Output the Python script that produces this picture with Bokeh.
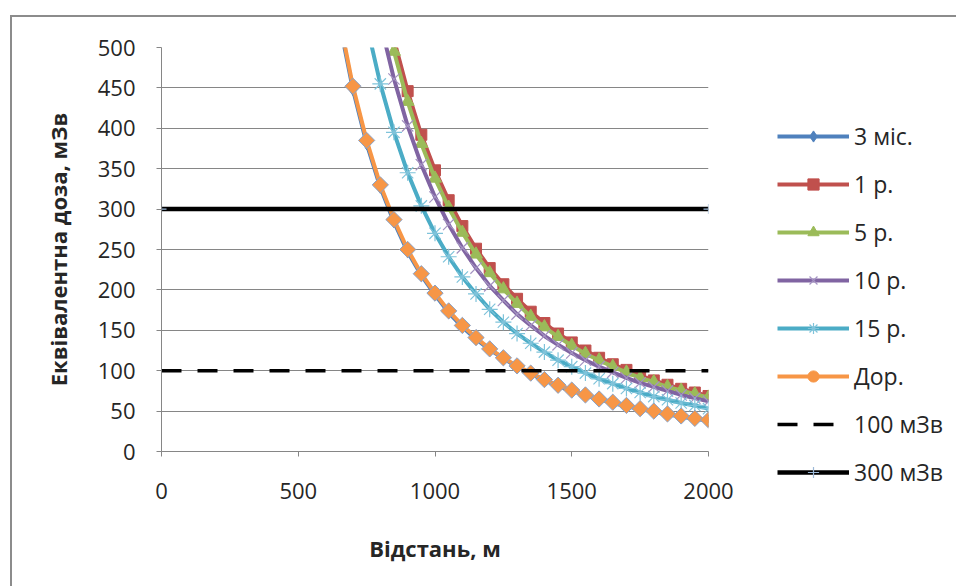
import math
from bokeh.plotting import figure
from bokeh.models import Legend, LegendItem, Range1d, FixedTicker
from bokeh.embed import file_html
from bokeh.resources import INLINE

# ---- data ----
distance = [650, 700, 750, 800, 850, 900, 950, 1000, 1050, 1100, 1150, 1200, 1250, 1300,
            1350, 1400, 1450, 1500, 1550, 1600, 1650, 1700, 1750, 1800, 1850, 1900, 1950, 2000]
dose_3m = [532, 448, 381, 327, 284, 247, 218, 194, 172, 154, 139, 126, 115, 105,
           96, 88, 81, 75, 69.5, 64.5, 60, 56, 52.5, 49, 46, 43, 40.5, 38]
dose_1y = [954, 803, 683, 587, 510, 446, 392, 348, 311, 279, 251, 227, 207, 189,
           173, 159, 146, 135, 125, 116, 108, 101, 94, 88, 82.6, 77.6, 73, 68.7]
dose_5y = [925, 778, 663, 570, 495, 433, 381, 338, 302, 271, 244, 221, 201, 183,
           167, 154, 142, 131, 121, 113, 105, 98, 91, 86, 80, 75.5, 71, 67]
dose_10y = [862, 725, 617, 531, 461, 403, 355, 315, 281, 252, 227, 205, 187, 170,
            156, 143, 132, 122, 113, 105, 98, 91, 85, 80, 75, 70, 66, 62]
dose_15y = [739, 622, 529, 455, 395, 345, 304, 270, 241, 216, 195, 176, 160, 146,
            134, 123, 113, 105, 97, 90, 84, 78, 73, 68, 64, 60, 57, 53]
dose_life = [537, 452, 385, 330, 287, 250, 220, 196, 174, 156, 141, 127, 116, 106,
             97, 89, 82, 76, 70, 65, 61, 57, 53, 50, 46.5, 44, 41, 39]
limit_x = [0, 2000]
limit_100 = [100, 100]
limit_300 = [300, 300]
x_ticks = [0, 500, 1000, 1500, 2000]
y_ticks = [0, 50, 100, 150, 200, 250, 300, 350, 400, 450, 500]
series_names = ["3 міс.", "1 р.", "5 р.", "10 р.", "15 р.", "Дор.", "100 мЗв", "300 мЗв"]

FONT = "Open Sans"

p = figure(frame_width=547, frame_height=404,
           min_border_left=149, min_border_right=248, min_border_top=30, min_border_bottom=135,
           x_range=Range1d(0, 2000), y_range=Range1d(0, 500),
           output_backend="svg", toolbar_location=None,
           background_fill_color="white", border_fill_color="white",
           styles={"border-left": "2px solid #8c8c8c", "border-top": "2px solid #8c8c8c",
                   "margin-left": "10px", "margin-top": "15px"})
p.outline_line_color = None

# axes
for ax in (p.xaxis[0], p.yaxis[0]):
    ax.axis_line_color = "#868686"
    ax.axis_line_width = 1
    ax.major_tick_line_color = "#868686"
    ax.major_tick_out = 5
    ax.major_tick_in = 0
    ax.minor_tick_line_color = None
    ax.major_label_text_font = FONT
    ax.major_label_text_font_size = "22px"
    ax.major_label_text_color = "#262626"
    ax.axis_label_text_font = FONT
    ax.axis_label_text_font_size = "22px"
    ax.axis_label_text_font_style = "bold"
    ax.axis_label_text_color = "#262626"

p.xaxis.ticker = FixedTicker(ticks=x_ticks)
p.yaxis.ticker = FixedTicker(ticks=y_ticks)
p.xaxis.axis_label = "Відстань, м"
p.yaxis.axis_label = "Еквівалентна доза, мЗв"
p.xaxis.major_label_standoff = 26
p.xaxis.axis_label_standoff = 31
p.yaxis.major_label_standoff = 21
p.yaxis.axis_label_standoff = 22

p.xgrid.grid_line_color = None
p.ygrid.grid_line_color = "#868686"
p.ygrid.grid_line_width = 1

LW = 4
blue, red, green, purple, teal, orange = "#4F81BD", "#C0504D", "#9BBB59", "#8064A2", "#4BACC6", "#F79646"

# 3 міс.
l_3m = p.line(distance, dose_3m, line_color=blue, line_width=LW)
m_3m = p.scatter(distance, dose_3m, marker="diamond", size=12, fill_color=blue, line_color=blue)
# 1 р.
l_1y = p.line(distance, dose_1y, line_color=red, line_width=LW)
m_1y = p.scatter(distance, dose_1y, marker="square", size=11, fill_color=red, line_color=red)
# 5 р.
l_5y = p.line(distance, dose_5y, line_color=green, line_width=LW)
m_5y = p.scatter(distance, dose_5y, marker="triangle", size=13, fill_color=green, line_color=green)
# 10 р.
l_10 = p.line(distance, dose_10y, line_color=purple, line_width=LW)
m_10 = p.scatter(distance, dose_10y, marker="x", size=16, line_color="#a493c2", line_width=1.2)
# 15 р.
l_15 = p.line(distance, dose_15y, line_color=teal, line_width=LW)
m_15 = p.scatter(distance, dose_15y, marker="asterisk", size=16, line_color="#7fc3da", line_width=1.2)
# Дор.
l_life = p.line(distance, dose_life, line_color=orange, line_width=LW)
c_life = p.scatter(distance, dose_life, marker="circle", size=5, fill_color=orange, line_color=orange)
m_life = p.scatter(distance, dose_life, marker="square", angle=math.pi / 4, size=11.5,
                   fill_color=orange, line_color="#8aa3c8", line_width=1)
# limits
l_100 = p.line(limit_x, limit_100, line_color="black", line_width=3.5, line_dash="20 16")
l_300 = p.line(limit_x, limit_300, line_color="black", line_width=4.5)
m_300 = p.scatter(limit_x, limit_300, marker="cross", size=10, line_color="#9db9d8", line_width=1.2)

items = [
    LegendItem(label=series_names[0], renderers=[l_3m, m_3m]),
    LegendItem(label=series_names[1], renderers=[l_1y, m_1y]),
    LegendItem(label=series_names[2], renderers=[l_5y, m_5y]),
    LegendItem(label=series_names[3], renderers=[l_10, m_10]),
    LegendItem(label=series_names[4], renderers=[l_15, m_15]),
    LegendItem(label=series_names[5], renderers=[l_life, c_life]),
    LegendItem(label=series_names[6], renderers=[l_100]),
    LegendItem(label=series_names[7], renderers=[l_300, m_300]),
]
legend = Legend(items=items, location=(69, -37), orientation="vertical",
                glyph_width=72, glyph_height=28, label_height=28, spacing=16,
                label_standoff=5, padding=0, margin=0,
                border_line_color=None, background_fill_alpha=0,
                label_text_font=FONT, label_text_font_size="23px",
                label_text_color="#262626", label_text_baseline="middle")
p.add_layout(legend, "right")

open("out.html", "w").write(file_html(p, INLINE))
